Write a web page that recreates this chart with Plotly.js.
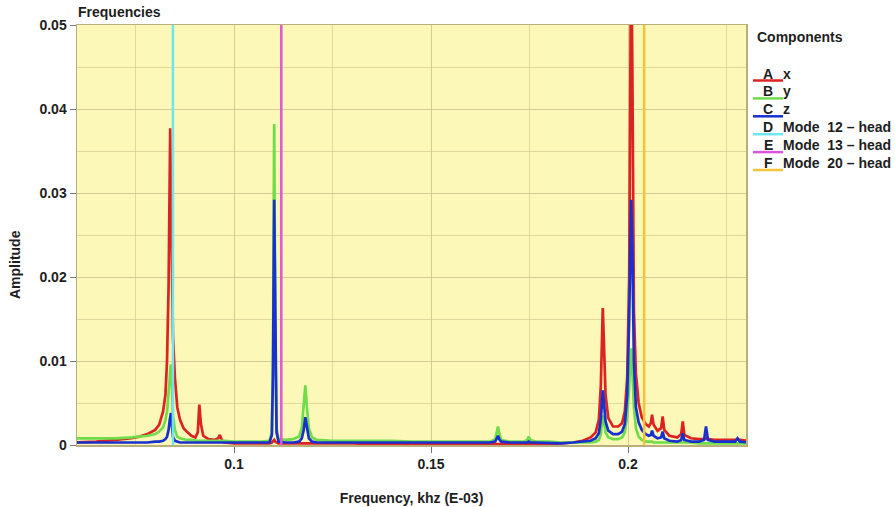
<!DOCTYPE html>
<html>
<head>
<meta charset="utf-8">
<script src="https://cdn.plot.ly/plotly-3.0.1.min.js"></script>
<style>html,body{margin:0;padding:0;background:#fff;}#chart{width:895px;height:507px;}</style>
</head>
<body>
<div id="chart"></div>
<script>
// Frequency (khz, E-03)
const freq = [
0.0600,0.0650,0.0700,0.0740,0.0760,0.0780,0.0800,0.0810,0.0820,0.0826,
0.0830,0.0834,0.0837,0.0838,0.0840,0.0842,0.0845,0.0850,0.0856,0.0863,
0.0872,0.0880,0.0892,0.0902,0.0908,0.0912,0.0916,0.0922,0.0935,0.0950,
0.0960,0.0964,0.0969,0.0975,0.1000,0.1040,0.1070,0.1090,0.1096,0.1099,
0.1102,0.1105,0.1108,0.1113,0.1130,0.1150,0.1165,0.1172,0.1177,0.1181,
0.1185,0.1190,0.1198,0.1210,0.1250,0.1300,0.1350,0.1400,0.1450,0.1500,
0.1550,0.1600,0.1650,0.1663,0.1667,0.1670,0.1673,0.1678,0.1700,0.1735,
0.1744,0.1748,0.1752,0.1765,0.1800,0.1830,0.1860,0.1885,0.1905,0.1918,
0.1926,0.1931,0.1934,0.1936,0.1939,0.1943,0.1950,0.1962,0.1975,0.1985,
0.1992,0.1998,0.2003,0.2006,0.2008,0.2011,0.2015,0.2020,0.2027,0.2035,
0.2045,0.2053,0.2058,0.2061,0.2065,0.2075,0.2084,0.2088,0.2092,0.2105,
0.2125,0.2135,0.2139,0.2143,0.2160,0.2180,0.2193,0.2198,0.2203,0.2220,
0.2250,0.2272,0.2278,0.2284,0.2305
];
// A x
const ampX = [
0.0003,0.0004,0.0006,0.0008,0.0010,0.0013,0.0018,0.0024,0.0040,0.0060,
0.0100,0.0190,0.0330,0.0377,0.0300,0.0200,0.0130,0.0080,0.0045,0.0030,
0.0020,0.0016,0.0011,0.0009,0.0015,0.0048,0.0025,0.0011,0.0007,0.0006,
0.0008,0.0012,0.0006,0.0003,0.0002,0.0002,0.0002,0.0002,0.0003,0.0004,
0.0006,0.0004,0.0003,0.0002,0.0002,0.0002,0.0002,0.0002,0.0002,0.0002,
0.0002,0.0002,0.0002,0.0002,0.0002,0.0002,0.0001,0.0001,0.0001,0.0001,
0.0001,0.0001,0.0001,0.0001,0.0001,0.0001,0.0001,0.0001,0.0001,0.0001,
0.0001,0.0001,0.0001,0.0001,0.0001,0.0002,0.0003,0.0005,0.0009,0.0015,
0.0030,0.0070,0.0130,0.0163,0.0120,0.0060,0.0032,0.0022,0.0022,0.0026,
0.0040,0.0080,0.0200,0.0450,0.0600,0.0450,0.0160,0.0085,0.0050,0.0033,
0.0025,0.0022,0.0026,0.0036,0.0024,0.0017,0.0020,0.0034,0.0018,0.0011,
0.0009,0.0013,0.0028,0.0012,0.0008,0.0007,0.0007,0.0008,0.0007,0.0006,
0.0006,0.0006,0.0007,0.0006,0.0005
];
// B y
const ampY = [
0.0008,0.0008,0.0008,0.0009,0.0010,0.0011,0.0013,0.0016,0.0021,0.0030,
0.0040,0.0058,0.0080,0.0090,0.0096,0.0075,0.0035,0.0018,0.0010,0.0008,
0.0007,0.0006,0.0006,0.0005,0.0005,0.0005,0.0005,0.0005,0.0005,0.0005,
0.0005,0.0005,0.0005,0.0005,0.0004,0.0004,0.0004,0.0005,0.0015,0.0110,
0.0382,0.0120,0.0020,0.0007,0.0006,0.0007,0.0010,0.0020,0.0045,0.0071,
0.0045,0.0020,0.0009,0.0006,0.0005,0.0005,0.0005,0.0005,0.0004,0.0004,
0.0004,0.0004,0.0004,0.0007,0.0015,0.0022,0.0014,0.0006,0.0004,0.0004,
0.0006,0.0010,0.0006,0.0004,0.0004,0.0003,0.0003,0.0003,0.0003,0.0004,
0.0006,0.0012,0.0025,0.0035,0.0030,0.0015,0.0009,0.0007,0.0007,0.0009,
0.0015,0.0035,0.0070,0.0100,0.0115,0.0090,0.0045,0.0020,0.0010,0.0006,
0.0004,0.0004,0.0004,0.0004,0.0003,0.0003,0.0003,0.0003,0.0003,0.0003,
0.0003,0.0003,0.0003,0.0003,0.0003,0.0002,0.0002,0.0002,0.0002,0.0002,
0.0002,0.0002,0.0002,0.0002,0.0002
];
// C z
const ampZ = [
0.0003,0.0003,0.0003,0.0003,0.0003,0.0003,0.0004,0.0004,0.0005,0.0007,
0.0010,0.0018,0.0030,0.0036,0.0038,0.0025,0.0010,0.0005,0.0004,0.0003,
0.0003,0.0003,0.0003,0.0003,0.0003,0.0003,0.0003,0.0003,0.0003,0.0003,
0.0003,0.0003,0.0003,0.0003,0.0003,0.0003,0.0003,0.0003,0.0012,0.0085,
0.0292,0.0090,0.0015,0.0004,0.0003,0.0003,0.0004,0.0008,0.0018,0.0033,
0.0020,0.0008,0.0004,0.0003,0.0003,0.0003,0.0003,0.0003,0.0003,0.0003,
0.0003,0.0003,0.0003,0.0004,0.0008,0.0011,0.0007,0.0004,0.0003,0.0003,
0.0003,0.0004,0.0003,0.0003,0.0002,0.0002,0.0003,0.0004,0.0005,0.0008,
0.0014,0.0030,0.0055,0.0065,0.0050,0.0028,0.0017,0.0013,0.0013,0.0016,
0.0025,0.0060,0.0150,0.0250,0.0292,0.0230,0.0100,0.0045,0.0027,0.0018,
0.0013,0.0011,0.0012,0.0017,0.0011,0.0008,0.0009,0.0016,0.0008,0.0005,
0.0004,0.0006,0.0014,0.0006,0.0004,0.0004,0.0006,0.0022,0.0006,0.0004,
0.0004,0.0004,0.0008,0.0004,0.0003
];
// Components
const seriesLetters = ["A","B","C"];
const seriesNames = ["x","y","z"];
const seriesColors = ["#dd2222","#6fdc4a","#1830d0"];
const modeLetters = ["D","E","F"];
const modeNames = ["Mode\u00a0\u00a012 – head","Mode\u00a0\u00a013 – head","Mode\u00a0\u00a020 – head"];
const modeFreqs = [0.0845, 0.1120, 0.2041];
const modeColors = ["#70e4f0","#dd55dd","#f5c23a"];
const yMax = 0.05;
const xRange = [0.06015, 0.22995];

const series = [ampX, ampY, ampZ];
const traces = series.map((a,i)=>({
  x: freq, y: a, type:'scatter', mode:'lines', name: seriesLetters[i]+'  '+seriesNames[i],
  line:{color: seriesColors[i], width:2.7}
}));
modeFreqs.forEach((f,i)=>{
  traces.push({x:[f,f], y:[0,yMax], type:'scatter', mode:'lines', name: modeLetters[i]+'  '+modeNames[i],
    line:{color: modeColors[i], width:2.5}});
});

// pixel -> paper helpers (plot area: x 77..746, y 25..445; paper width 813)
const ML=77, MR=5, MT=25, MB=62, W=895, H=507;
const PW = W-ML-MR, PH = H-MT-MB;
const px = v => (v-ML)/PW;
const py = v => (H-MB-v)/PH;

const axisCol = 'rgb(185,175,125)';
const gridCol = 'rgba(200,192,140,0.55)';
const fontFam = '"Liberation Sans", Arial, sans-serif';
const txtCol = '#1e1e1e';

// custom legend (letter underlined by the colour swatch)
const allLetters = seriesLetters.concat(modeLetters);
const allNames = seriesNames.concat(modeNames);
const allColors = seriesColors.concat(modeColors);
const annotations = [
  {text:'<b>Components</b>', xref:'paper', yref:'paper', x:px(755), xanchor:'left', y:py(37), yanchor:'middle', showarrow:false, font:{size:14, family:fontFam, color:txtCol}},
  {text:'<b>Amplitude</b>', xref:'paper', yref:'paper', x:px(15), xanchor:'center', y:py(265), yanchor:'middle', textangle:-90, showarrow:false, font:{size:14, family:fontFam, color:txtCol}}
];
const shapes = [];
allLetters.forEach((L,i)=>{
  const yc = 73.5 + i*17.9;
  annotations.push({text:'<b>'+L+'</b>', xref:'paper', yref:'paper', x:px(768), xanchor:'center', y:py(yc), yanchor:'middle', showarrow:false, font:{size:14, family:fontFam, color:txtCol}});
  annotations.push({text:'<b>'+allNames[i]+'</b>', xref:'paper', yref:'paper', x:px(781), xanchor:'left', y:py(yc), yanchor:'middle', showarrow:false, font:{size:14, family:fontFam, color:txtCol}});
  shapes.push({type:'line', xref:'paper', yref:'paper', x0:px(753), x1:px(783), y0:py(yc+7), y1:py(yc+7), line:{color:allColors[i], width:2.5}});
});

const layout = {
  width:W, height:H,
  margin:{l:ML, r:MR, t:MT, b:MB},
  paper_bgcolor:'#ffffff',
  plot_bgcolor:'rgb(251,248,184)',
  font:{family:fontFam, size:14, color:txtCol},
  title:{text:'<b>Frequencies</b>', x:78/895, xanchor:'left', xref:'container', y:1-12/507, yanchor:'middle', yref:'container', font:{size:14, family:fontFam, color:txtCol}},
  showlegend:false,
  xaxis:{domain:[0, px(746)], range:xRange, tickvals:[0.1,0.15,0.2], ticktext:['0.1','0.15','0.2'],
    showgrid:true, gridcolor:gridCol, gridwidth:1,
    minor:{dtick:0.025, tick0:0, showgrid:true, gridcolor:gridCol, ticks:''},
    ticks:'outside', ticklen:6, tickcolor:'#777', tickfont:{size:14, family:fontFam, weight:'bold', color:txtCol},
    showline:true, linecolor:axisCol, linewidth:1.5, mirror:true, zeroline:false,
    title:{text:'<b>Frequency, khz (E-03)</b>', standoff:22, font:{size:14, family:fontFam, color:txtCol}}},
  yaxis:{range:[0,yMax], tickvals:[0,0.01,0.02,0.03,0.04,0.05], ticktext:['0','0.01','0.02','0.03','0.04','0.05'],
    showgrid:true, gridcolor:gridCol, gridwidth:1,
    minor:{dtick:0.005, tick0:0, showgrid:true, gridcolor:gridCol, ticks:''},
    ticks:'outside', ticklen:6, tickcolor:'#777', tickfont:{size:14, family:fontFam, weight:'bold', color:txtCol},
    showline:true, linecolor:axisCol, linewidth:1.5, mirror:true, zeroline:false},
  annotations: annotations,
  shapes: shapes
};
Plotly.newPlot('chart', traces, layout, {displayModeBar:false, staticPlot:true});
</script>
</body>
</html>
